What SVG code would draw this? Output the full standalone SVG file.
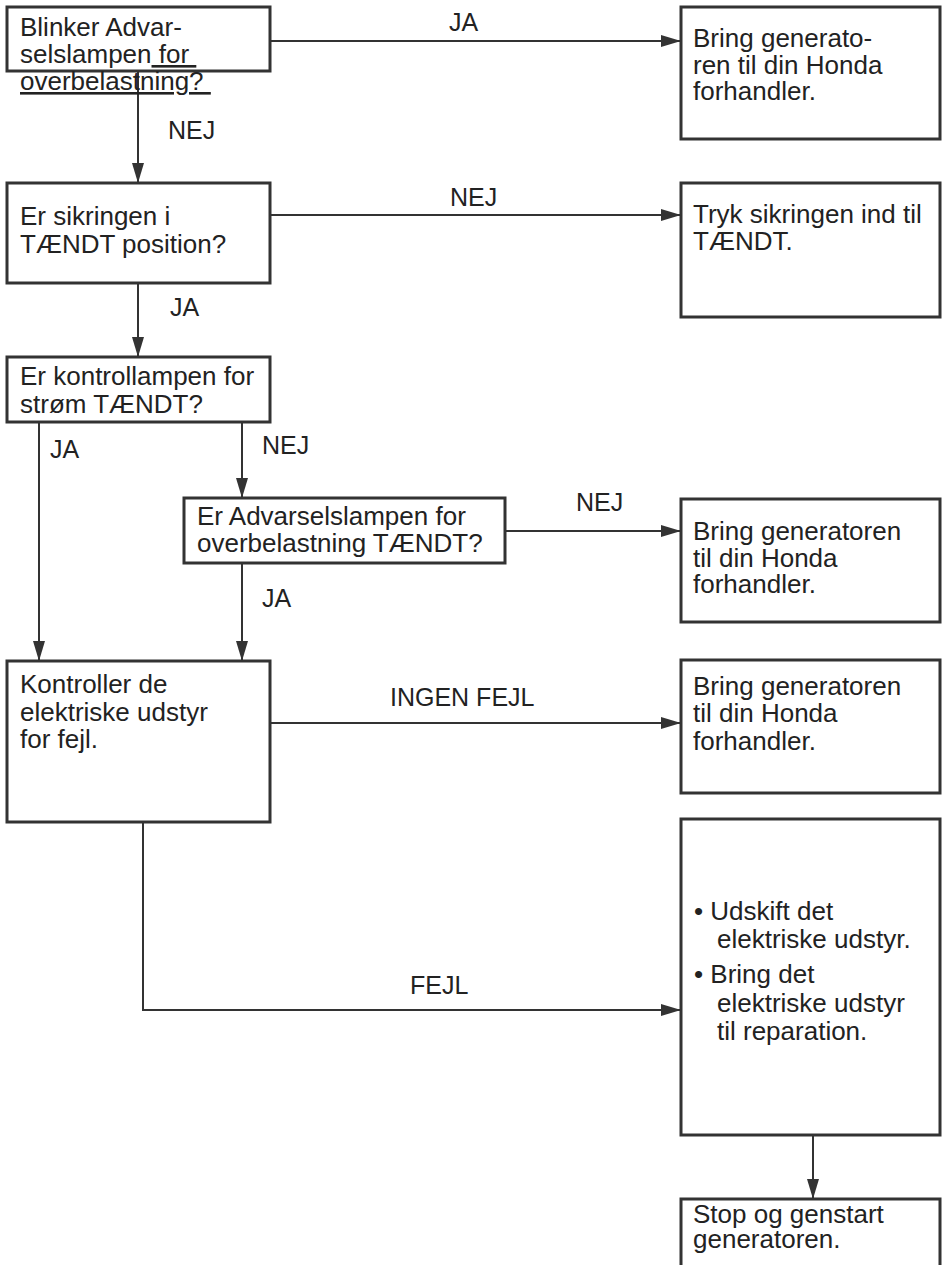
<svg xmlns="http://www.w3.org/2000/svg" width="943" height="1265" viewBox="0 0 943 1265">
<style>
.box{fill:#fff;stroke:#333;stroke-width:3}
.con{fill:none;stroke:#333;stroke-width:2}
text{font-family:"Liberation Sans",Arial,sans-serif;font-size:26px;fill:#222;white-space:pre}
.lbl{font-size:25px}
.u{text-decoration:underline}
</style>
<defs>
<marker id="ah" markerUnits="userSpaceOnUse" markerWidth="22" markerHeight="14" refX="20" refY="6" orient="auto">
<path d="M0,0 L20,6 L0,12 Z" fill="#333"/>
</marker>
</defs>
<rect width="943" height="1265" fill="#fff"/>
<g id="connectors">
<line class="con" x1="270" y1="41" x2="681" y2="41" marker-end="url(#ah)"/>
<line class="con" x1="138" y1="71" x2="138" y2="183" marker-end="url(#ah)"/>
<line class="con" x1="270" y1="215" x2="681" y2="215" marker-end="url(#ah)"/>
<line class="con" x1="138" y1="283" x2="138" y2="357" marker-end="url(#ah)"/>
<line class="con" x1="39" y1="422" x2="39" y2="661" marker-end="url(#ah)"/>
<line class="con" x1="242" y1="422" x2="242" y2="498" marker-end="url(#ah)"/>
<line class="con" x1="505" y1="531" x2="681" y2="531" marker-end="url(#ah)"/>
<line class="con" x1="242" y1="563" x2="242" y2="661" marker-end="url(#ah)"/>
<line class="con" x1="270" y1="723" x2="681" y2="723" marker-end="url(#ah)"/>
<polyline class="con" points="143,822 143,1010 681,1010" marker-end="url(#ah)"/>
<line class="con" x1="813" y1="1135" x2="813" y2="1199" marker-end="url(#ah)"/>
<text class="lbl" x="449" y="31">JA</text>
<text class="lbl" x="168" y="139">NEJ</text>
<text class="lbl" x="450" y="206">NEJ</text>
<text class="lbl" x="170" y="316">JA</text>
<text class="lbl" x="50" y="458">JA</text>
<text class="lbl" x="262" y="454">NEJ</text>
<text class="lbl" x="576" y="511">NEJ</text>
<text class="lbl" x="262" y="607">JA</text>
<text class="lbl" x="390" y="706">INGEN FEJL</text>
<text class="lbl" x="410" y="994">FEJL</text>
</g>
<g id="n1">
<rect class="box" x="7" y="7" width="263" height="64"/>
<text x="20" y="36">Blinker Advar-</text>
<text x="20" y="63">selslampen<tspan class="u"> for </tspan></text>
<text x="20" y="90"><tspan class="u">overbelastning? </tspan></text>
</g>
<g id="n2">
<rect class="box" x="681" y="7" width="259" height="132"/>
<text x="693" y="47">Bring generato-</text>
<text x="693" y="74">ren til din Honda</text>
<text x="693" y="100">forhandler.</text>
</g>
<g id="n3">
<rect class="box" x="7" y="183" width="263" height="100"/>
<text x="20" y="225">Er sikringen i</text>
<text x="20" y="253">TÆNDT position?</text>
</g>
<g id="n4">
<rect class="box" x="681" y="183" width="259" height="134"/>
<text x="693" y="223">Tryk sikringen ind til</text>
<text x="693" y="250">TÆNDT.</text>
</g>
<g id="n5">
<rect class="box" x="7" y="357" width="263" height="65"/>
<text x="20" y="385">Er kontrollampen for</text>
<text x="20" y="413">strøm TÆNDT?</text>
</g>
<g id="n6">
<rect class="box" x="184" y="498" width="321" height="65"/>
<text x="197" y="525">Er Advarselslampen for</text>
<text x="197" y="552">overbelastning TÆNDT?</text>
</g>
<g id="n7">
<rect class="box" x="681" y="499" width="259" height="123"/>
<text x="693" y="540">Bring generatoren</text>
<text x="693" y="567">til din Honda</text>
<text x="693" y="593">forhandler.</text>
</g>
<g id="n8">
<rect class="box" x="7" y="661" width="263" height="161"/>
<text x="20" y="693">Kontroller de</text>
<text x="20" y="721">elektriske udstyr</text>
<text x="20" y="748">for fejl.</text>
</g>
<g id="n9">
<rect class="box" x="681" y="660" width="259" height="133"/>
<text x="693" y="695">Bring generatoren</text>
<text x="693" y="722">til din Honda</text>
<text x="693" y="750">forhandler.</text>
</g>
<g id="n10">
<rect class="box" x="681" y="819" width="259" height="316"/>
<text x="694" y="920">• Udskift det</text>
<text x="717" y="948">elektriske udstyr.</text>
<text x="694" y="983">• Bring det</text>
<text x="717" y="1012">elektriske udstyr</text>
<text x="717" y="1040">til reparation.</text>
</g>
<g id="n11">
<path class="box" d="M681,1265 V1199 H940 V1265"/>
<text x="693" y="1223">Stop og genstart</text>
<text x="693" y="1248">generatoren.</text>
</g>
</svg>
